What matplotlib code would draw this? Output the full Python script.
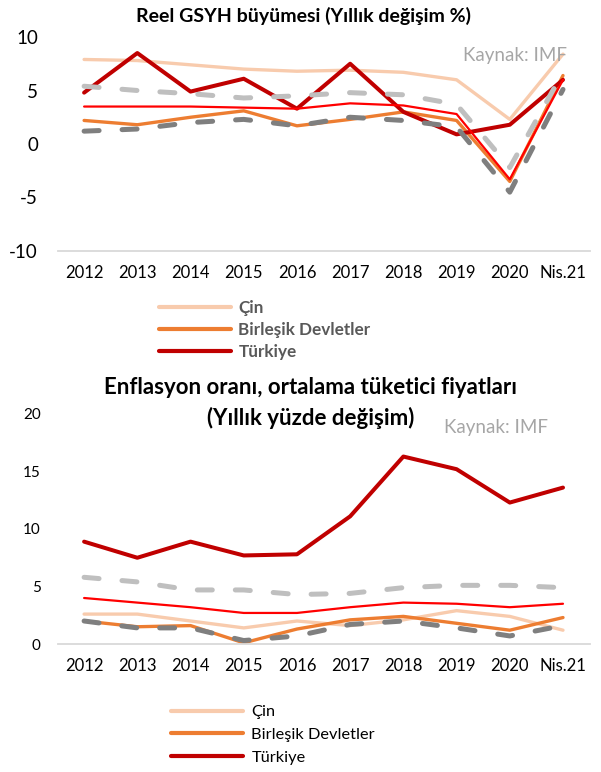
import matplotlib.pyplot as plt
from matplotlib.lines import Line2D

plt.rcParams['font.family'] = ['Lato', 'DejaVu Sans']
plt.rcParams['axes.unicode_minus'] = False

# x categories
years = ['2012', '2013', '2014', '2015', '2016', '2017', '2018', '2019', '2020', 'Nis.21']

# real GDP growth (%)
gdp_cin = [7.9, 7.8, 7.4, 7.0, 6.8, 6.9, 6.7, 6.0, 2.3, 8.4]
gdp_abd = [2.2, 1.8, 2.5, 3.1, 1.7, 2.3, 3.0, 2.2, -3.5, 6.4]
gdp_tr = [4.8, 8.5, 4.9, 6.1, 3.3, 7.5, 3.0, 0.9, 1.8, 6.0]
gdp_gelismekte = [5.4, 5.0, 4.7, 4.3, 4.5, 4.8, 4.6, 3.7, -2.2, 6.7]
gdp_gelismis = [1.2, 1.4, 2.0, 2.3, 1.7, 2.5, 2.2, 1.6, -4.5, 5.1]
gdp_dunya = [3.5, 3.5, 3.5, 3.4, 3.3, 3.8, 3.6, 2.8, -3.3, 6.0]

# inflation (%)
enf_cin = [2.6, 2.6, 2.0, 1.4, 2.0, 1.6, 2.1, 2.9, 2.4, 1.2]
enf_abd = [2.0, 1.5, 1.6, 0.1, 1.3, 2.1, 2.4, 1.8, 1.2, 2.3]
enf_tr = [8.9, 7.5, 8.9, 7.7, 7.8, 11.1, 16.3, 15.2, 12.3, 13.6]
enf_gelismekte = [5.8, 5.4, 4.7, 4.7, 4.3, 4.4, 4.9, 5.1, 5.1, 4.9]
enf_gelismis = [2.0, 1.4, 1.4, 0.3, 0.7, 1.7, 2.0, 1.4, 0.7, 1.6]
enf_dunya = [4.0, 3.6, 3.2, 2.7, 2.7, 3.2, 3.6, 3.5, 3.2, 3.5]

legend_names = ['Çin', 'Birleşik Devletler', 'Türkiye']

c_cin = '#F8CBAD'
c_abd = '#ED7D31'
c_tr = '#C00000'
c_dunya = '#FF0000'
c_lgrey = '#BFBFBF'
c_dgrey = '#7F7F7F'

x = list(range(len(years)))


def draw(ax, cin, abd, tr, gelismekte, gelismis, dunya):
    kw = dict(solid_joinstyle='round', solid_capstyle='round')
    ax.plot(x, cin, color=c_cin, lw=2.4, **kw)
    ax.plot(x, abd, color=c_abd, lw=2.4, **kw)
    ax.plot(x, tr, color=c_tr, lw=2.9, **kw)
    ax.plot(x, gelismekte, color=c_lgrey, lw=3.6, dashes=(3.0, 4.6),
            dash_capstyle='round', dash_joinstyle='round')
    ax.plot(x, gelismis, color=c_dgrey, lw=3.6, dashes=(3.0, 4.6),
            dash_capstyle='round', dash_joinstyle='round')
    ax.plot(x, dunya, color=c_dunya, lw=1.6, **kw)
    ax.set_xlim(-0.5, len(years) - 0.5)
    ax.set_xticks(x)
    ax.set_xticklabels(years, fontsize=12)
    for s in ['top', 'right', 'left']:
        ax.spines[s].set_visible(False)
    ax.spines['bottom'].set_color('#D9D9D9')
    ax.spines['bottom'].set_linewidth(1.3)
    ax.tick_params(axis='x', length=0, pad=10)


fig = plt.figure(figsize=(6.01, 7.72), dpi=100)
W, H = 601.0, 772.0
left = 57.5 / W
width = (589.6 - 57.5) / W

# top chart
ax1 = fig.add_axes([left, 1 - 251 / H, width, (251 - 37) / H])
draw(ax1, gdp_cin, gdp_abd, gdp_tr, gdp_gelismekte, gdp_gelismis, gdp_dunya)
ax1.set_ylim(-10, 10)
ax1.set_yticks([-10, -5, 0, 5, 10])
ax1.tick_params(axis='y', length=0, pad=14, labelsize=13.5)

# bottom chart
ax2 = fig.add_axes([left, 1 - 644 / H, width, (644 - 414) / H])
draw(ax2, enf_cin, enf_abd, enf_tr, enf_gelismekte, enf_gelismis, enf_dunya)
ax2.set_ylim(0, 20)
ax2.set_yticks([0, 5, 10, 15, 20])
ax2.tick_params(axis='y', length=0, pad=12, labelsize=11)

# titles
fig.text(304 / W, 1 - 16 / H, 'Reel GSYH büyümesi (Yıllık değişim %)',
         ha='center', va='center', fontsize=14, fontweight='bold')
fig.text(311 / W, 1 - 388 / H, 'Enflasyon oranı, ortalama tüketici fiyatları',
         ha='center', va='center', fontsize=16, fontweight='bold')
fig.text(311 / W, 1 - 418 / H, '(Yıllık yüzde değişim)',
         ha='center', va='center', fontsize=16, fontweight='bold')

fig.text(463 / W, 1 - 55 / H, 'Kaynak: IMF', ha='left', va='center',
         fontsize=13.5, color='#A6A6A6')
fig.text(444 / W, 1 - 428 / H, 'Kaynak: IMF', ha='left', va='center',
         fontsize=13.5, color='#A6A6A6')

# legends
handles = [Line2D([], [], color=c, lw=3, solid_capstyle='round')
           for c in [c_cin, c_abd, c_tr]]
leg1 = fig.legend(handles, legend_names, loc='upper left',
                  bbox_to_anchor=(159 / W, 1 - 300 / H), frameon=False,
                  borderpad=0, borderaxespad=0, handlelength=4.2,
                  handletextpad=0.45, labelspacing=0.35,
                  prop={'size': 12.3, 'weight': 'bold'})
for t in leg1.get_texts():
    t.set_color('#595959')

fig.legend(handles, legend_names, loc='upper left',
           bbox_to_anchor=(171 / W, 1 - 705 / H), frameon=False,
           borderpad=0, borderaxespad=0, handlelength=4.4,
           handletextpad=0.5, labelspacing=0.5, prop={'size': 11.8})

fig.savefig('out.png', dpi=100)
